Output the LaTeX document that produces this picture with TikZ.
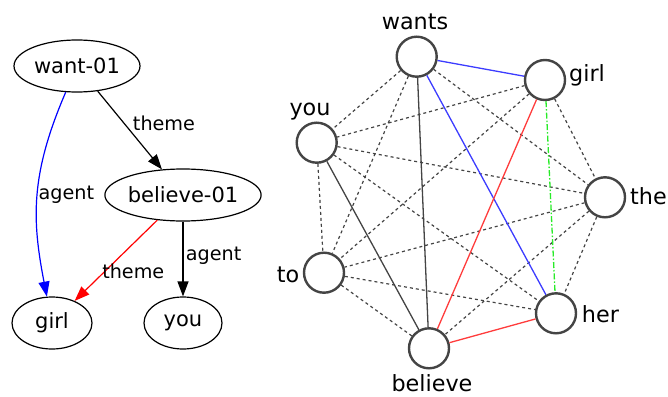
\documentclass[tikz,border=0pt]{standalone}
\usepackage{fontspec}
\setmainfont{DejaVu Sans}
\usetikzlibrary{shapes.geometric,arrows.meta}
\definecolor{cgray}{RGB}{68,68,68}
\definecolor{cblue}{RGB}{60,60,255}
\definecolor{cred}{RGB}{255,60,60}
\definecolor{cgreen}{RGB}{40,235,40}
\tikzset{
  amr/.style={ellipse,draw,line width=1.2pt,inner sep=0pt,minimum height=52pt,font=\fontsize{21}{23}\selectfont},
  elab/.style={font=\fontsize{19.2}{21}\selectfont,anchor=base,inner sep=0pt},
  arr/.style={line width=1.2pt,-{Triangle[length=15pt,width=11pt]}},
  tok/.style={circle,draw=cgray,line width=2.4pt,minimum size=40pt,inner sep=0pt},
  tlab/.style={font=\fontsize{22.3}{24}\selectfont,inner sep=0pt},
  dsh/.style={cgray,line width=1.2pt,dash pattern=on 3pt off 3pt},
  sol/.style={line width=1.3pt}
}
\begin{document}
\begin{tikzpicture}[x=1pt,y=-1pt]
\useasboundingbox (0,0) rectangle (668,396);
% left AMR graph
\node[amr,minimum width=126pt] (want) at (77,66) {want-01};
\node[amr,minimum width=154pt] (bel) at (183,195) {believe-01};
\node[amr,minimum width=80pt] (girl) at (52,323) {girl};
\node[amr,minimum width=78pt] (you) at (183,323) {you};
\draw[arr] (want) -- (bel);
\draw[arr,blue] (want) .. controls (30,175) and (32,220) .. (girl);
\draw[arr,red] (bel) -- (girl);
\draw[arr] (bel) -- (you);
\node[elab] (l1) at (164,130.7) {theme};
\node[elab] (l2) at (66.3,199.3) {agent};
\node[elab] (l3) at (133.3,278.3) {theme};
\node[elab] (l4) at (213.7,260) {agent};
% right token graph
\node[tok] (wants) at (416.7,56.7) {};
\node[tok] (tgirl) at (545,80) {};
\node[tok] (tyou) at (316.7,142.7) {};
\node[tok] (the) at (605,197.3) {};
\node[tok] (to) at (324,272.7) {};
\node[tok] (her) at (556,313.3) {};
\node[tok] (believe) at (429,348.3) {};
\foreach \a/\b in {wants/tyou,wants/the,wants/to,tgirl/tyou,tgirl/the,tgirl/to,tyou/the,tyou/to,tyou/her,the/to,the/her,the/believe,to/her,to/believe}
  \draw[dsh] (\a) -- (\b);
\draw[sol,cblue] (wants) -- (tgirl);
\draw[sol,cblue] (wants) -- (her);
\draw[sol,cgray] (wants) -- (believe);
\draw[sol,cgray] (tyou) -- (believe);
\draw[sol,cred] (tgirl) -- (believe);
\draw[sol,cred] (her) -- (believe);
\draw[sol,cgreen,dash pattern=on 6pt off 2pt on 1.5pt off 2pt] (tgirl) -- (her);
\node[tlab,anchor=base] (lwants) at (415,29.3) {wants};
\node[tlab,anchor=base west] (lgirl) at (569,81.7) {girl};
\node[tlab,anchor=base] (lyou) at (310,115) {you};
\node[tlab,anchor=base west] (lthe) at (630,204) {the};
\node[tlab,anchor=base east] (lto) at (299.5,282.7) {to};
\node[tlab,anchor=base west] (lher) at (581.7,322.7) {her};
\node[tlab,anchor=base] (lbelieve) at (432,391.5) {believe};
\end{tikzpicture}
\end{document}
